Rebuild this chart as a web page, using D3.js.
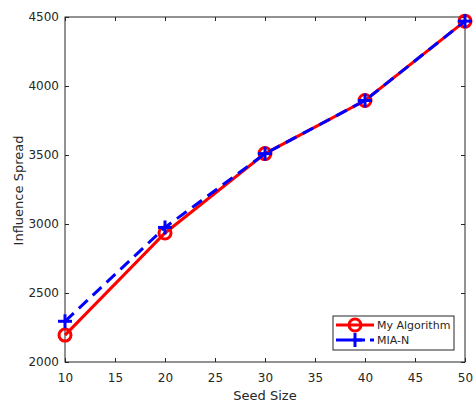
<!DOCTYPE html>
<html><head><meta charset="utf-8">
<script src="https://cdn.jsdelivr.net/npm/d3@7"></script>
<style>body{margin:0;background:#fff}svg{display:block}text{font-family:"DejaVu Sans",sans-serif;fill:#262626}</style>
</head><body><svg width="473" height="403"></svg>
<script>
const seedSizes = [10, 20, 30, 40, 50];
const myAlgorithm = [2195, 2935, 3510, 3895, 4470];
const miaN = [2295, 2975, 3510, 3895, 4470];
const xTicks = [10, 15, 20, 25, 30, 35, 40, 45, 50];
const yTicks = [2000, 2500, 3000, 3500, 4000, 4500];
const seriesNames = ["My Algorithm", "MIA-N"];

const svg = d3.select("svg");
const L = 65, R = 465, T = 17, B = 362;
const x = d3.scaleLinear().domain([10, 50]).range([L, R]);
const y = d3.scaleLinear().domain([2000, 4500]).range([B, T]);

svg.append("rect").attr("x", L).attr("y", T).attr("width", R - L).attr("height", B - T)
  .attr("fill", "none").attr("stroke", "#262626").attr("stroke-width", 1);

const xa = svg.append("g").attr("transform", `translate(0,${B})`)
  .call(d3.axisBottom(x).tickValues(xTicks).tickSize(-4).tickPadding(11).tickFormat(d3.format("d")));
const xt = svg.append("g").attr("transform", `translate(0,${T})`)
  .call(d3.axisTop(x).tickValues(xTicks).tickSize(-4).tickFormat(""));
const ya = svg.append("g").attr("transform", `translate(${L},0)`)
  .call(d3.axisLeft(y).tickValues(yTicks).tickSize(-4).tickPadding(6).tickFormat(d3.format("d")));
const yr = svg.append("g").attr("transform", `translate(${R},0)`)
  .call(d3.axisRight(y).tickValues(yTicks).tickSize(-4).tickFormat(""));
[xa, xt, ya, yr].forEach(g => {
  g.select(".domain").remove();
  g.selectAll("line").attr("stroke", "#262626");
  g.selectAll("text").attr("font-size", 12).attr("fill", "#262626").attr("font-family", "DejaVu Sans");
});

svg.append("text").attr("x", (L + R) / 2).attr("y", 400).attr("text-anchor", "middle")
  .attr("font-size", 13).text("Seed Size");
svg.append("text").attr("transform", `translate(23,${(T + B) / 2 + 1}) rotate(-90)`)
  .attr("text-anchor", "middle").attr("font-size", 13).text("Influence Spread");

const line = d3.line().x((d, i) => x(seedSizes[i])).y(d => y(d));

svg.append("path").datum(myAlgorithm).attr("d", line).attr("fill", "none")
  .attr("stroke", "#ff0000").attr("stroke-width", 3);
svg.selectAll(".c").data(myAlgorithm).enter().append("circle")
  .attr("cx", (d, i) => x(seedSizes[i])).attr("cy", d => y(d)).attr("r", 6)
  .attr("fill", "none").attr("stroke", "#ff0000").attr("stroke-width", 3);

svg.append("path").datum(miaN).attr("d", line).attr("fill", "none")
  .attr("stroke", "#0000ff").attr("stroke-width", 3).attr("stroke-dasharray", "12,7");
const plus = (g, cx, cy, s, col) => {
  g.append("line").attr("x1", cx - s).attr("x2", cx + s).attr("y1", cy).attr("y2", cy).attr("stroke", col).attr("stroke-width", 3);
  g.append("line").attr("x1", cx).attr("x2", cx).attr("y1", cy - s).attr("y2", cy + s).attr("stroke", col).attr("stroke-width", 3);
};
const pg = svg.append("g");
miaN.forEach((d, i) => plus(pg, x(seedSizes[i]), y(d), 7, "#0000ff"));

const lg = svg.append("g");
lg.append("rect").attr("x", 333).attr("y", 316).attr("width", 121).attr("height", 34)
  .attr("fill", "#fff").attr("stroke", "#262626").attr("stroke-width", 1);
lg.append("line").attr("x1", 336).attr("x2", 374).attr("y1", 325).attr("y2", 325)
  .attr("stroke", "#ff0000").attr("stroke-width", 3);
lg.append("circle").attr("cx", 355).attr("cy", 325).attr("r", 6).attr("fill", "none")
  .attr("stroke", "#ff0000").attr("stroke-width", 3);
lg.append("line").attr("x1", 336).attr("x2", 374).attr("y1", 340).attr("y2", 340)
  .attr("stroke", "#0000ff").attr("stroke-width", 3).attr("stroke-dasharray", "12,5");
plus(lg, 355, 340, 7, "#0000ff");
lg.append("text").attr("x", 377).attr("y", 329).attr("font-size", 11).text(seriesNames[0]);
lg.append("text").attr("x", 377).attr("y", 344).attr("font-size", 11).text(seriesNames[1]);
</script></body></html>
